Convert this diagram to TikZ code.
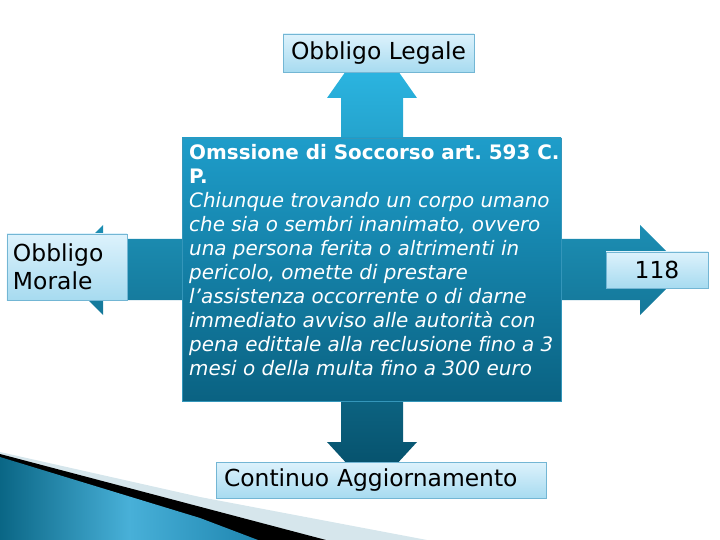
\documentclass[tikz,border=0pt]{standalone}
\usepackage{fontspec}
\setmainfont[Ligatures=NoCommon]{DejaVu Sans}
\frenchspacing
\definecolor{arrtop}{RGB}{46,189,235}
\definecolor{arrbot}{RGB}{4,76,102}
\definecolor{boxtop}{RGB}{30,157,202}
\definecolor{boxbot}{RGB}{10,98,130}
\definecolor{boxedge}{RGB}{52,150,186}
\definecolor{lbltop}{RGB}{221,242,252}
\definecolor{lblbot}{RGB}{167,219,240}
\definecolor{lblborder}{RGB}{115,182,212}
\definecolor{swlight}{RGB}{214,230,236}
\definecolor{swone}{RGB}{10,102,133}
\definecolor{swtwo}{RGB}{72,176,216}
\definecolor{swthree}{RGB}{31,134,176}
\begin{document}
\begin{tikzpicture}[x=1bp,y=-1bp,
  lbl/.style={draw=lblborder, line width=0.8bp, top color=lbltop, bottom color=lblbot,
    text=black, font=\fontsize{23.5}{28}\selectfont},
]
\useasboundingbox (0,0) rectangle (720,540);
% decorative swoosh
\fill[swlight] (0,452) -- (200,497) -- (427,540) -- (0,540) -- cycle;
\fill[black] (0,454) -- (326,540) -- (0,540) -- cycle;
\shade[left color=swone, right color=swthree, middle color=swtwo]
  (0,457) -- (200,518) -- (258,540) -- (0,540) -- cycle;
% four arrows
\shade[top color=arrtop, bottom color=arrbot]
  (341,140) -- (341,98) -- (327,98) -- (372,34) -- (417,98) -- (403,98) -- (403,140) -- cycle
  (341,399) -- (341,442) -- (327,442) -- (372,491) -- (417,442) -- (403,442) -- (403,399) -- cycle
  (184,239) -- (103,239) -- (103,225) -- (58,270) -- (103,315) -- (103,300) -- (184,300) -- cycle
  (559,239) -- (640,239) -- (640,225) -- (685,270) -- (640,315) -- (640,300) -- (559,300) -- cycle;
% central box
\node[draw=boxedge, line width=0.8bp, top color=boxtop, bottom color=boxbot,
  minimum width=379bp, minimum height=263bp, inner sep=0pt] (centre) at (371.5,269.5) {};
\node[anchor=north west, inner sep=0pt, text=white, align=left,
  font=\fontsize{20}{24.1}\selectfont] (txt) at (189,144)
  {\textbf{Omssione di Soccorso art. 593 C.}\\
   \textbf{P.}\\
   \textit{Chiunque trovando un corpo umano}\\
   \textit{che sia o sembri inanimato, ovvero}\\
   \textit{una persona ferita o altrimenti in}\\
   \textit{pericolo, omette di prestare}\\
   \textit{l’assistenza occorrente o di darne}\\
   \textit{immediato avviso alle autorità con}\\
   \textit{pena edittale alla reclusione fino a 3}\\
   \textit{mesi o della multa fino a 300 euro}};
% labels
\node[lbl, minimum width=191bp, minimum height=38bp, inner sep=0pt] (legale) at (378.5,53) {Obbligo Legale};
\node[lbl, minimum height=66bp, inner xsep=6bp, inner ysep=0pt, text width=108bp, align=left] (morale) at (67,267) {Obbligo\\Morale};
\node[lbl, minimum width=102bp, minimum height=36bp, inner sep=0pt] (emerg) at (657,270) {118};
\node[lbl, minimum height=36bp, inner xsep=8bp, inner ysep=0pt, text width=314bp, align=left] (aggiorn) at (381,480) {Continuo Aggiornamento};
\end{tikzpicture}
\end{document}
